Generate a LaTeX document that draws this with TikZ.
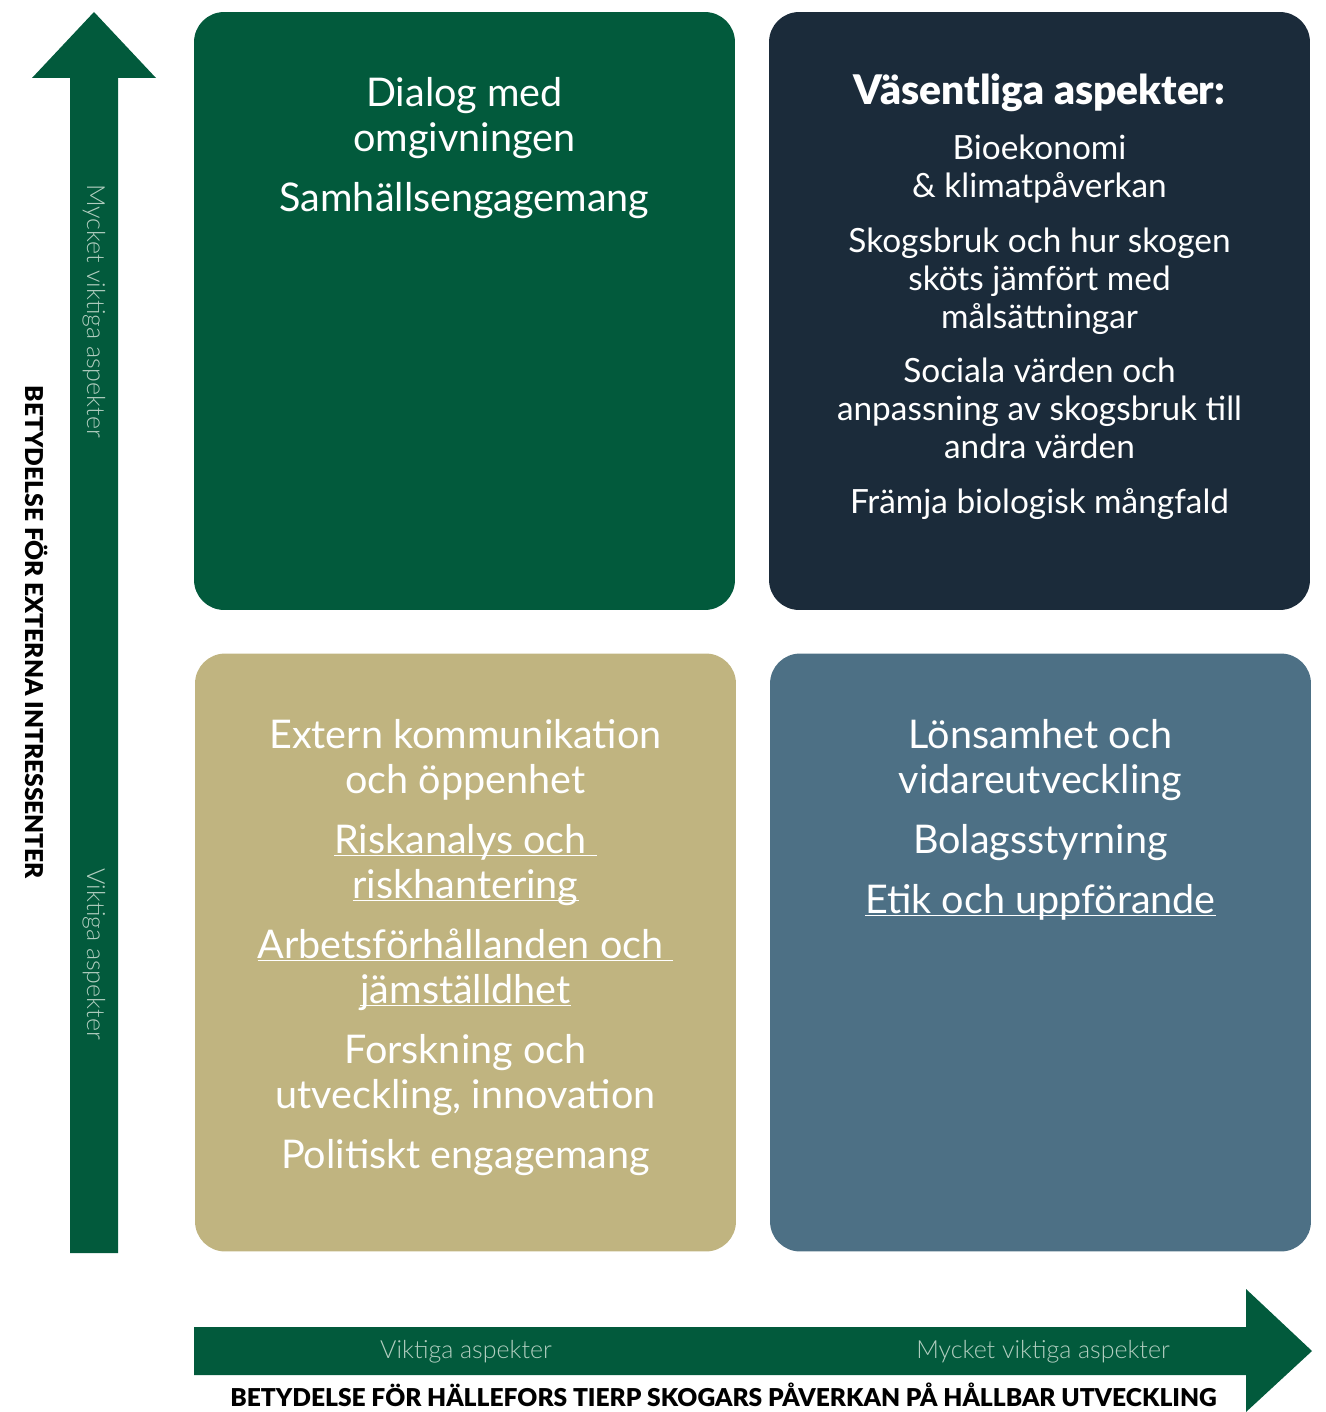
\documentclass[tikz,border=0pt]{standalone}
\usepackage{fontspec}
\setmainfont{Lato}
\IfFontExistsTF{Lato Black}{\newfontfamily\tjock{Lato Black}}{\newfontfamily\tjock{Lato}[UprightFont=*, FakeBold=2]}
\IfFontExistsTF{Lato Light}{\newfontfamily\tunn{Lato Light}}{\newfontfamily\tunn{Lato}}
\usetikzlibrary{positioning}

\definecolor{skogsgron}{RGB}{2,90,60}
\definecolor{morkbla}{RGB}{27,43,58}
\definecolor{sandgul}{RGB}{192,180,128}
\definecolor{stalbla}{RGB}{77,112,133}
\definecolor{ljusgron}{RGB}{178,206,192}

\newcommand{\topstrut}{\rule{0pt}{24pt}}

\begin{document}
\begin{tikzpicture}[x=0.02cm, y=-0.02cm]
		\tikzstyle{Quad} = [rectangle, rounded corners=0.6cm, minimum width=10.82cm, minimum height=11.96cm, inner sep=0pt]
		\tikzstyle{Body} = [text=white, align=center, inner sep=0pt, font=\fontsize{22.5}{25.6}\selectfont]
		\tikzstyle{SmallBody} = [text=white, align=center, inner sep=0pt, font=\fontsize{19}{21.6}\selectfont]
		\tikzstyle{Title} = [text=white, inner sep=0pt, font=\tjock\fontsize{23.2}{24}\selectfont]
		\tikzstyle{AxisTitle} = [inner sep=0pt, font=\tjock\fontsize{14}{16}\selectfont]
		\tikzstyle{ScaleText} = [text=ljusgron, inner sep=0pt, font=\tunn\fontsize{14.2}{15}\selectfont]
		
		\useasboundingbox (0,0) rectangle (1325,1412);
		
		% axlar
		\fill[skogsgron] (70,1253) -- (70,78) -- (32,78) -- (94,12) -- (156,78) -- (118,78) -- (118,1253) -- cycle;
		\fill[skogsgron] (194,1327) -- (1246,1327) -- (1246,1289) -- (1312,1351) -- (1246,1412) -- (1246,1375) -- (194,1375) -- cycle;
		
		% rutor
		\node (dialog) [Quad, fill=skogsgron] at (464.5,311) {};
		\node (vasentlig) [Quad, fill=morkbla] at (1039.5,311) {};
		\node (extern) [Quad, fill=sandgul] at (465.5,952.5) {};
		\node (lonsam) [Quad, fill=stalbla] at (1040.5,952.5) {};
		
		\node (dialogtext) [Body, below=1.05cm of dialog.north] {\topstrut Dialog med\\ omgivningen\\[0.3cm] Samhällsengagemang};
		
		\node (vastitel) [Title, below=1cm of vasentlig.north] {\topstrut Väsentliga aspekter:};
		\node (vastext) [SmallBody, below=2.1cm of vasentlig.north] {\topstrut Bioekonomi\\ \& klimatpåverkan\\[0.34cm]
			Skogsbruk och hur skogen\\ sköts jämfört med\\ målsättningar\\[0.34cm]
			Sociala värden och\\ anpassning av skogsbruk till\\ andra värden\\[0.34cm]
			Främja biologisk mångfald};
		
		\node (externtext) [Body, below=1.05cm of extern.north] {\topstrut Extern kommunikation\\ och öppenhet\\[0.3cm]
			\underline{\smash{Riskanalys och\ }}\\ \underline{\smash{riskhantering}}\\[0.3cm]
			\underline{\smash{Arbetsförhållanden och\ }}\\ \underline{\smash{jämställdhet}}\\[0.3cm]
			Forskning och\\ utveckling, innovation\\[0.3cm]
			Politiskt engagemang};
		
		\node (lonsamtext) [Body, below=1.05cm of lonsam.north] {\topstrut Lönsamhet och\\ vidareutveckling\\[0.3cm]
			Bolagsstyrning\\[0.3cm]
			\underline{\smash{Etik och uppförande}}};
		
		% axeltexter
		\node (yhog) [ScaleText, rotate=-90] at (94,311) {Mycket viktiga aspekter};
		\node (ylag) [ScaleText, rotate=-90] at (94,954) {Viktiga aspekter};
		\node (xlag) [ScaleText] at (466,1352) {Viktiga aspekter};
		\node (xhog) [ScaleText] at (1043,1352) {Mycket viktiga aspekter};
		\node (ytitel) [AxisTitle, rotate=-90] at (37,632.5) {BETYDELSE FÖR EXTERNA INTRESSENTER};
		\node (xtitel) [AxisTitle, anchor=base] at (723.5,1406) {BETYDELSE FÖR HÄLLEFORS TIERP SKOGARS PÅVERKAN PÅ HÅLLBAR UTVECKLING};
		
\end{tikzpicture}
\end{document}
